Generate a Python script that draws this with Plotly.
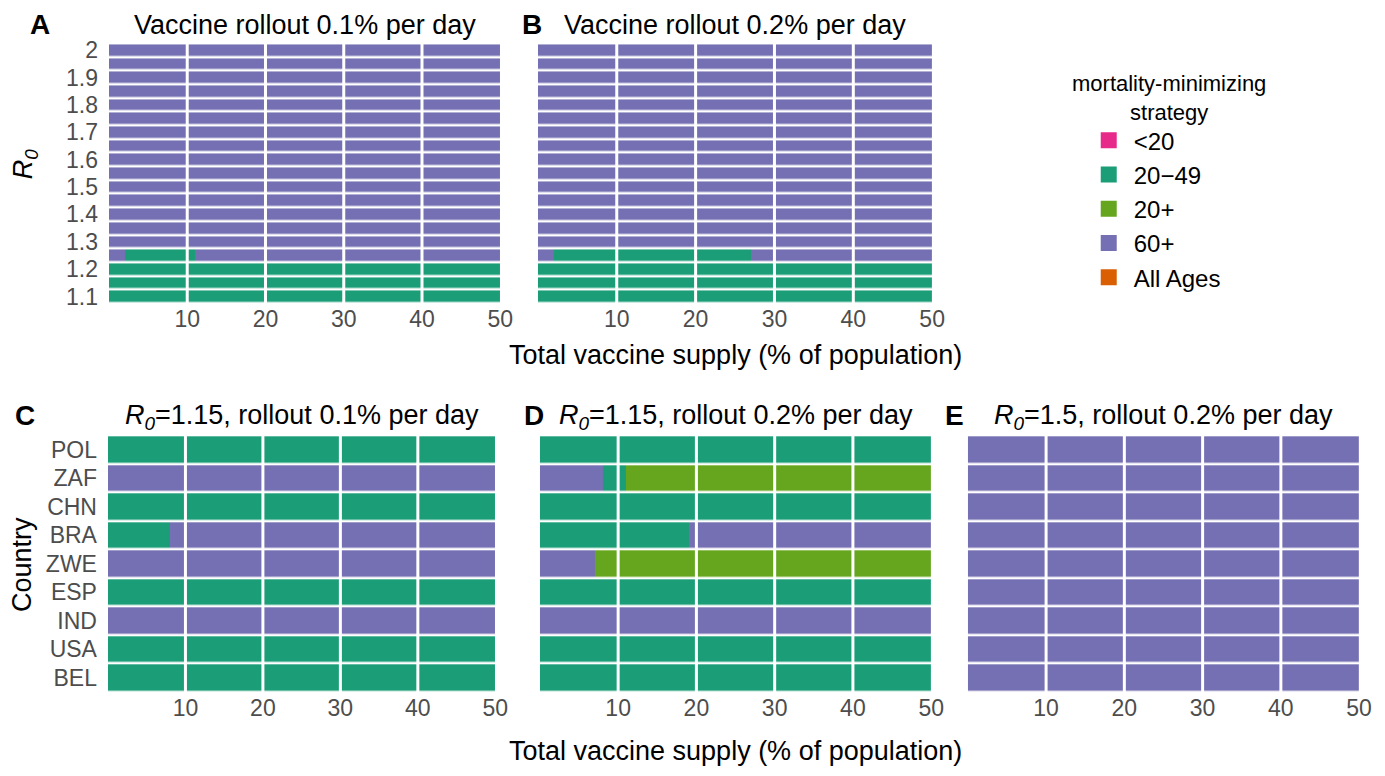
import plotly.graph_objects as go

# ---------------- data ----------------
strategies = ["<20", "20−49", "20+", "60+", "All Ages"]
strategy_colors = ["#E7298A", "#1B9E77", "#66A61E", "#7570B3", "#D95F02"]

supply = list(range(1, 51))          # total vaccine supply (% of population), one tile per %
supply_ticks = [10, 20, 30, 40, 50]

r0_values = [1.1, 1.15, 1.2, 1.25, 1.3, 1.35, 1.4, 1.45, 1.5, 1.55,
             1.6, 1.65, 1.7, 1.75, 1.8, 1.85, 1.9, 1.95, 2.0]
r0_ticks = [1.1, 1.2, 1.3, 1.4, 1.5, 1.6, 1.7, 1.8, 1.9, 2.0]
r0_ticktext = ["1.1", "1.2", "1.3", "1.4", "1.5", "1.6", "1.7", "1.8", "1.9", "2"]

countries = ["BEL", "USA", "IND", "ESP", "ZWE", "BRA", "CHN", "ZAF", "POL"]  # bottom -> top

# runs: (strategy, last supply % of that run), rows in the same order as r0_values / countries
A_runs = [
    [("20−49", 50)], [("20−49", 50)], [("20−49", 50)],
    [("60+", 2), ("20−49", 11), ("60+", 50)],
] + [[("60+", 50)]] * 15

B_runs = [
    [("20−49", 50)], [("20−49", 50)], [("20−49", 50)],
    [("60+", 2), ("20−49", 27), ("60+", 50)],
] + [[("60+", 50)]] * 15

C_runs = [
    [("20−49", 50)],                 # BEL
    [("20−49", 50)],                 # USA
    [("60+", 50)],                   # IND
    [("20−49", 50)],                 # ESP
    [("60+", 50)],                   # ZWE
    [("20−49", 8), ("60+", 50)],     # BRA
    [("20−49", 50)],                 # CHN
    [("60+", 50)],                   # ZAF
    [("20−49", 50)],                 # POL
]

D_runs = [
    [("20−49", 50)],                              # BEL
    [("20−49", 50)],                              # USA
    [("60+", 50)],                                # IND
    [("20−49", 50)],                              # ESP
    [("60+", 7), ("20+", 50)],                    # ZWE
    [("20−49", 19), ("60+", 50)],                 # BRA
    [("20−49", 50)],                              # CHN
    [("60+", 8), ("20−49", 11), ("20+", 50)],     # ZAF
    [("20−49", 50)],                              # POL
]

E_runs = [[("60+", 50)]] * 9

titles = {
    "A": "Vaccine rollout 0.1% per day",
    "B": "Vaccine rollout 0.2% per day",
    "C": "<i>R</i><sub><i>0</i></sub>=1.15, rollout 0.1% per day",
    "D": "<i>R</i><sub><i>0</i></sub>=1.15, rollout 0.2% per day",
    "E": "<i>R</i><sub><i>0</i></sub>=1.5, rollout 0.2% per day",
}

# ---------------- helpers ----------------
W, H = 1385, 776
FONT = "Liberation Sans, Arial, Helvetica, sans-serif"
TICK_COLOR = "#4D4D4D"
TICK_SIZE = 23
TITLE_SIZE = 27


def expand(runs):
    z = []
    for row in runs:
        vals = []
        for s in supply:
            for name, last in row:
                if s <= last:
                    vals.append(strategies.index(name))
                    break
        z.append(vals)
    return z


n = len(strategies)
colorscale = []
for i, c in enumerate(strategy_colors):
    colorscale.append([i / n, c])
    colorscale.append([(i + 1) / n, c])


def xd(a, b):
    return [a / W, b / W]


def yd(top, bottom):
    return [1 - bottom / H, 1 - top / H]


def py(v):
    return 1 - v / H


panels = [
    dict(key="A", runs=A_runs, rows=r0_values, x=(110, 505), y=(38, 302)),
    dict(key="B", runs=B_runs, rows=r0_values, x=(543, 941), y=(38, 302)),
    dict(key="C", runs=C_runs, rows=countries, x=(109, 500), y=(436, 697)),
    dict(key="D", runs=D_runs, rows=countries, x=(545, 940), y=(436, 697)),
    dict(key="E", runs=E_runs, rows=countries, x=(977, 1372), y=(436, 697)),
]

fig = go.Figure()
layout = {}
shapes = []
annotations = []

for i, p in enumerate(panels):
    k = "" if i == 0 else str(i + 1)
    xa, ya = "x" + k, "y" + k
    fig.add_trace(go.Heatmap(
        z=expand(p["runs"]),
        x=[s - 0.5 for s in supply],
        y=p["rows"],
        xaxis=xa, yaxis=ya,
        colorscale=colorscale, zmin=-0.5, zmax=n - 0.5,
        showscale=False, ygap=2.5, xgap=0,
        hoverinfo="skip",
    ))
    layout["xaxis" + k] = dict(
        domain=xd(*p["x"]), anchor=ya, range=[0, 50],
        tickvals=supply_ticks, showgrid=False, zeroline=False, showline=False,
        ticks="", tickfont=dict(size=TICK_SIZE, color=TICK_COLOR, family=FONT),
    )
    ycfg = dict(domain=yd(*p["y"]), anchor=xa, showgrid=False, zeroline=False,
                showline=False, ticks="",
                tickfont=dict(size=TICK_SIZE, color=TICK_COLOR, family=FONT))
    if p["rows"] is r0_values:
        ycfg.update(range=[1.075, 2.025], tickvals=r0_ticks, ticktext=r0_ticktext,
                    showticklabels=(p["key"] == "A"), ticklabelstandoff=10)
    else:
        ycfg.update(type="category", categoryorder="array", categoryarray=countries,
                    showticklabels=(p["key"] == "C"), ticklabelstandoff=10)
    layout["yaxis" + k] = ycfg

    for v in supply_ticks[:-1]:
        shapes.append(dict(type="line", xref=xa, yref=ya + " domain", x0=v, x1=v,
                           y0=0, y1=1, line=dict(color="white", width=3), layer="above"))

    # panel title
    cx = (p["x"][0] + p["x"][1]) / 2
    annotations.append(dict(text=titles[p["key"]], xref="paper", yref="paper",
                            x=cx / W, y=py(p["y"][0] - 19), xanchor="center",
                            yanchor="middle", showarrow=False,
                            font=dict(size=TITLE_SIZE, color="black", family=FONT)))

# panel letters
for letter, lx, ly in [("A", 40, 19), ("B", 537, 19), ("C", 25, 416), ("D", 539, 416), ("E", 964, 416)]:
    annotations.append(dict(text="<b>%s</b>" % letter, xref="paper", yref="paper",
                            x=lx / W, y=py(ly), xanchor="center", yanchor="middle",
                            showarrow=False, font=dict(size=28, color="black", family=FONT)))

# axis titles
for ty in [354, 757]:
    annotations.append(dict(text="Total vaccine supply (% of population)", xref="paper",
                            yref="paper", x=742 / W, y=py(ty), xanchor="center",
                            yanchor="middle", showarrow=False,
                            font=dict(size=TITLE_SIZE, color="black", family=FONT)))
annotations.append(dict(text="<i>R</i><sub><i>0</i></sub>", xref="paper", yref="paper",
                        x=25 / W, y=py(160), xanchor="center", yanchor="middle",
                        textangle=-90, showarrow=False,
                        font=dict(size=TITLE_SIZE, color="black", family=FONT)))
annotations.append(dict(text="Country", xref="paper", yref="paper",
                        x=22 / W, y=py(567), xanchor="center", yanchor="middle",
                        textangle=-90, showarrow=False,
                        font=dict(size=TITLE_SIZE, color="black", family=FONT)))

# legend title (centred, two lines)
annotations.append(dict(text="mortality-minimizing<br>strategy", xref="paper", yref="paper",
                        x=1180 / W, y=py(93), xanchor="center", yanchor="middle",
                        align="center", showarrow=False,
                        font=dict(size=22, color="black", family=FONT)))

# legend entries
for name, col in zip(strategies, strategy_colors):
    fig.add_trace(go.Scatter(x=[None], y=[None], mode="markers", name=name,
                             legendgroup=name,
                             marker=dict(symbol="square", size=17, color=col),
                             xaxis="x", yaxis="y"))

fig.update_layout(
    width=W, height=H,
    margin=dict(l=0, r=0, t=0, b=0),
    paper_bgcolor="white", plot_bgcolor="white",
    font=dict(family=FONT),
    shapes=shapes, annotations=annotations,
    showlegend=True,
    legend=dict(
        x=1094 / W, y=py(114), xanchor="left", yanchor="top",
        font=dict(size=24, color="black", family=FONT),
        tracegroupgap=0, itemwidth=40, itemclick=False, itemdoubleclick=False,
        bgcolor="rgba(0,0,0,0)",
    ),
    **layout,
)

fig.write_html(
    "out.html",
    config={"displayModeBar": False},
    post_script="document.body.style.margin='0';document.body.style.padding='0';"
                "document.body.style.overflow='hidden';",
)
